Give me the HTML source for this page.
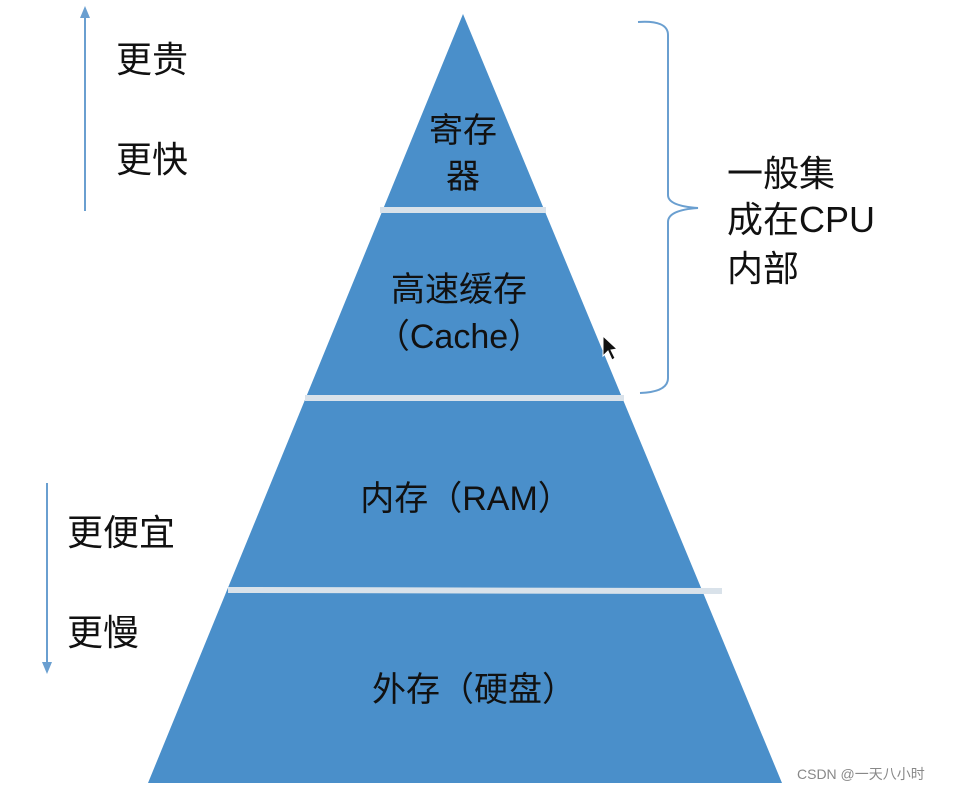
<!DOCTYPE html>
<html><head><meta charset="utf-8"><style>
body{margin:0;width:966px;height:791px;background:#fff;overflow:hidden}
svg{display:block}
text{font-family:"Liberation Sans","Noto Sans CJK SC",sans-serif;fill:#111}
</style></head><body>
<svg width="966" height="791" viewBox="0 0 966 791">
<polygon points="463,14 148,783 782,783" fill="#4a8fca"/>
<line x1="380" y1="210" x2="546" y2="210" stroke="#d9e2ea" stroke-width="6"/>
<line x1="305" y1="398" x2="624" y2="398" stroke="#d9e2ea" stroke-width="6"/>
<line x1="228" y1="590" x2="722" y2="591" stroke="#d9e2ea" stroke-width="6"/>
<path d="M638,22 Q668,20 668,35 L668,195 Q668,206 698,208 Q668,210 668,222 L668,378 Q668,392 640,393" fill="none" stroke="#6a9fd0" stroke-width="2"/>
<line x1="85" y1="211" x2="85" y2="14" stroke="#6a9fd0" stroke-width="2"/>
<polygon points="85,6 80,18 90,18" fill="#6a9fd0"/>
<line x1="47" y1="483" x2="47" y2="666" stroke="#6a9fd0" stroke-width="2"/>
<polygon points="47,674 42,662 52,662" fill="#6a9fd0"/>
<g font-size="36">
<text x="116" y="72">更贵</text>
<text x="116" y="172">更快</text>
<text x="67" y="545">更便宜</text>
<text x="67" y="645">更慢</text>
<text x="727" y="186">一般集</text>
<text x="727" y="232">成在CPU</text>
<text x="727" y="281">内部</text>
</g>
<g font-size="34" text-anchor="middle">
<text x="463" y="142">寄存</text>
<text x="463" y="188">器</text>
<text x="459" y="301">高速缓存</text>
<text x="459" y="348">（Cache）</text>
<text x="466" y="510">内存（RAM）</text>
<text x="474" y="701">外存（硬盘）</text>
</g>
<path d="M603,336 L603,356 L608,351 L612,360 L615,358 L611,350 L617,349 Z" fill="#111" stroke="#fff" stroke-width="1"/>
<text x="797" y="779" font-size="14" style="fill:#888">CSDN @一天八小时</text>
</svg>
</body></html>
